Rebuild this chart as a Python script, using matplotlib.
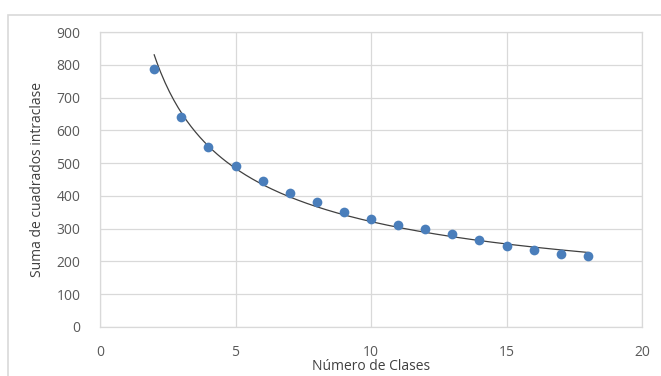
import numpy as np
import matplotlib
matplotlib.use('Agg')
import matplotlib.pyplot as plt
from matplotlib.patches import Rectangle

# number of classes vs within-class sum of squares
num_clases = [2, 3, 4, 5, 6, 7, 8, 9, 10, 11, 12, 13, 14, 15, 16, 17, 18]
suma_cuadrados = [787, 642, 550, 490, 445, 409, 382, 351, 328, 311, 299, 284, 265, 247, 235, 223, 216]

x_ticks = [0, 5, 10, 15, 20]
y_ticks = [0, 100, 200, 300, 400, 500, 600, 700, 800, 900]

plt.rcParams['font.family'] = ['Open Sans', 'DejaVu Sans']

fig = plt.figure(figsize=(6.61, 3.76), dpi=100)
ax = fig.add_axes([100 / 661, 1 - 327 / 376, 542 / 661, 295 / 376])

# outer chart border (only top and left visible in the crop)
fig.patches.append(Rectangle((8 / 661, -0.1), 1.2, 1 - 15 / 376 + 0.1,
                             transform=fig.transFigure, fill=False,
                             edgecolor='#d9d9d9', linewidth=1.2))

# power trendline (Excel style: fit in log-log space)
x = np.array(num_clases, dtype=float)
y = np.array(suma_cuadrados, dtype=float)
b, ln_a = np.polyfit(np.log(x), np.log(y), 1)
xs = np.linspace(x.min(), x.max(), 200)
ax.plot(xs, np.exp(ln_a) * xs ** b, color='#404040', linewidth=0.9, zorder=2)

ax.plot(num_clases, suma_cuadrados, 'o', color='#4a7ebb', markersize=7,
        markeredgewidth=0, zorder=3)

ax.set_xlim(0, 20)
ax.set_ylim(0, 900)
ax.set_xticks(x_ticks)
ax.set_yticks(y_ticks)
ax.grid(True, color='#d9d9d9', linewidth=0.9)
ax.set_axisbelow(True)
for s in ax.spines.values():
    s.set_color('#d9d9d9')
    s.set_linewidth(0.9)
ax.tick_params(length=0, labelsize=10, colors='#595959')
ax.tick_params(axis='x', pad=13)
ax.tick_params(axis='y', pad=14)

ax.set_xlabel('Número de Clases', fontsize=10, color='#404040', labelpad=-1)
ax.set_ylabel('Suma de cuadrados intraclase', fontsize=10, color='#404040', labelpad=8)

fig.savefig('out.png', dpi=100)
